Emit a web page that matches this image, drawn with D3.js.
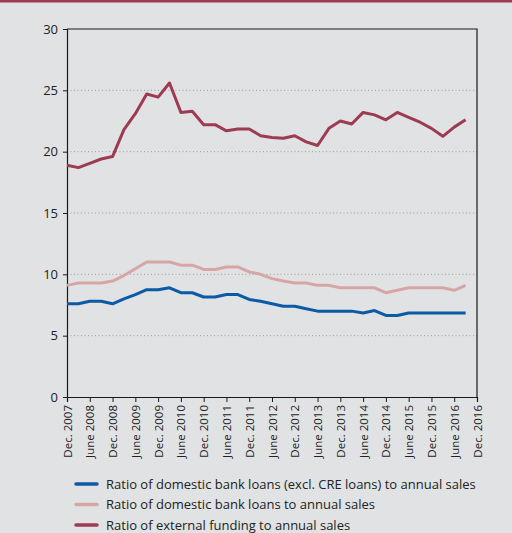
<!DOCTYPE html>
<html>
<head>
<meta charset="utf-8">
<script src="https://cdn.jsdelivr.net/npm/d3@7/dist/d3.min.js"></script>
<style>
  html, body { margin: 0; padding: 0; background: #e1e2e4; }
  svg { display: block; }
  text { font-family: "Open Sans", "Noto Sans", sans-serif; fill: #222; }
</style>
</head>
<body>
<script>
// Quarterly observations, Dec. 2007 to Sept. 2016
const quarters = d3.range(36);
const tickLabels = ["Dec. 2007","June 2008","Dec. 2008","June 2009","Dec. 2009","June 2010",
  "Dec. 2010","June 2011","Dec. 2011","June 2012","Dec. 2012","June 2013","Dec. 2013",
  "June 2014","Dec. 2014","June 2015","Dec. 2015","June 2016","Dec. 2016"];
const yTicks = [0, 5, 10, 15, 20, 25, 30];

const bankExclCRE = [7.6,7.6,7.8,7.8,7.6,8.0,8.35,8.75,8.75,8.9,8.5,8.5,8.15,8.15,8.35,8.35,
  7.95,7.8,7.6,7.4,7.4,7.2,7.0,7.0,7.0,7.0,6.85,7.05,6.65,6.65,6.85,6.85,6.85,6.85,6.85,6.85];
const bankLoans = [9.1,9.3,9.3,9.3,9.45,9.9,10.45,11.0,11.0,11.0,10.75,10.75,10.4,10.4,10.6,10.6,
  10.2,10.0,9.65,9.45,9.3,9.3,9.1,9.1,8.9,8.9,8.9,8.9,8.5,8.7,8.9,8.9,8.9,8.9,8.7,9.1];
const externalFunding = [18.9,18.7,19.05,19.4,19.6,21.8,23.1,24.7,24.45,25.6,23.2,23.3,22.2,22.2,21.7,21.85,
  21.85,21.3,21.15,21.1,21.3,20.8,20.5,21.9,22.5,22.25,23.2,23.0,22.6,23.2,22.8,22.4,21.9,21.25,22.0,22.6];

const seriesNames = ["Ratio of domestic bank loans (excl. CRE loans) to annual sales",
  "Ratio of domestic bank loans to annual sales",
  "Ratio of external funding to annual sales"];
const seriesColors = ["#0b5aa6", "#d6a6a7", "#9c3b52"];
const seriesData = [bankExclCRE, bankLoans, externalFunding];

const W = 512, H = 533;
const margin = { left: 67, right: 35, top: 29, bottom: 136 };
const svg = d3.select("body").append("svg").attr("width", W).attr("height", H);

svg.append("rect").attr("x", 0).attr("y", 0).attr("width", W).attr("height", 2.5).attr("fill", "#9c3b52");

const x = d3.scaleLinear().domain([0, 36]).range([margin.left, W - margin.right]);
const y = d3.scaleLinear().domain([0, 30]).range([H - margin.bottom, margin.top]);

// dotted gridlines
svg.append("g").selectAll("line").data(yTicks.filter(v => v > 0 && v < 30)).join("line")
  .attr("x1", x(0)).attr("x2", x(36)).attr("y1", d => y(d)).attr("y2", d => y(d))
  .attr("stroke", "#8a8a8a").attr("stroke-width", 0.8).attr("stroke-dasharray", "1,2.5");

// frame top and right
svg.append("path")
  .attr("d", `M${x(0)},${y(30)}H${x(36)}V${y(0)}`)
  .attr("fill", "none").attr("stroke", "#1a1a1a").attr("stroke-width", 1.2);

// y axis
const yAxis = svg.append("g").attr("transform", `translate(${x(0)},0)`)
  .call(d3.axisLeft(y).tickValues(yTicks).tickSize(4).tickPadding(5));
yAxis.select(".domain").attr("stroke", "#1a1a1a").attr("stroke-width", 1.2);
yAxis.selectAll(".tick line").attr("stroke", "#1a1a1a");
yAxis.selectAll("text").attr("font-size", 13).style("font-family", "'Open Sans', sans-serif").attr("fill", "#222");

// x axis
const xAxis = svg.append("g").attr("transform", `translate(0,${y(0)})`)
  .call(d3.axisBottom(x).tickValues(d3.range(0, 37, 2)).tickSize(5)
    .tickFormat((d, i) => tickLabels[i]));
xAxis.select(".domain").attr("stroke", "#1a1a1a").attr("stroke-width", 1.2);
xAxis.selectAll(".tick line").attr("stroke", "#1a1a1a");
xAxis.selectAll("text")
  .attr("font-size", 11.5).style("font-family", "'Open Sans', sans-serif").attr("fill", "#222")
  .attr("text-anchor", "end")
  .attr("transform", "rotate(-90)")
  .attr("x", -8).attr("y", 0).attr("dy", "0.35em");

// series lines
const line = d3.line().x((d, i) => x(quarters[i])).y(d => y(d)).curve(d3.curveLinear);
seriesData.forEach((s, k) => {
  svg.append("path").datum(s)
    .attr("d", line)
    .attr("fill", "none")
    .attr("stroke", seriesColors[k])
    .attr("stroke-width", 3)
    .attr("stroke-linejoin", "round");
});

// legend
const legend = svg.append("g");
seriesNames.forEach((name, k) => {
  const ly = 484 + k * 20.5;
  legend.append("line").attr("x1", 76).attr("x2", 97).attr("y1", ly).attr("y2", ly)
    .attr("stroke", seriesColors[k]).attr("stroke-width", 3.5).attr("stroke-linecap", "round");
  legend.append("text").attr("x", 106).attr("y", ly).attr("dy", "0.35em")
    .attr("font-size", 13).text(name);
});
</script>
</body>
</html>
